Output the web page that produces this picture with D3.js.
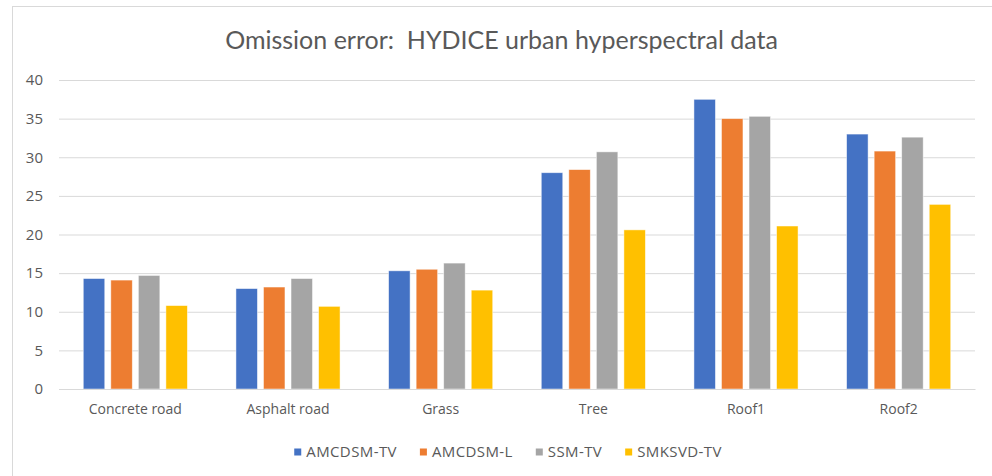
<!DOCTYPE html>
<html>
<head>
<meta charset="utf-8">
<script src="https://cdn.jsdelivr.net/npm/d3@7"></script>
<style>
  body { margin: 0; background: #fff; }
  svg { display: block; }
  .chart__title { font-family: Lato, "Open Sans", sans-serif; fill: #595959; white-space: pre; }
  .chart__tick { font-family: "Open Sans", sans-serif; font-size: 14px; fill: #595959; }
  .chart__ytick { font-family: "Open Sans", sans-serif; font-size: 15px; fill: #595959; }
  .chart__legend text { font-family: "Open Sans", sans-serif; font-size: 15px; letter-spacing: 0.4px; fill: #595959; }
</style>
</head>
<body>
<div id="chart"></div>
<script>
const TITLE = 'Omission error:  HYDICE urban hyperspectral data';

const CATEGORIES = ['Concrete road', 'Asphalt road', 'Grass', 'Tree', 'Roof1', 'Roof2'];
const SERIES = ['AMCDSM-TV', 'AMCDSM-L', 'SSM-TV', 'SMKSVD-TV'];

const AMCDSM_TV = [14.3, 13.0, 15.3, 28.0, 37.5, 33.0];
const AMCDSM_L = [14.1, 13.2, 15.5, 28.4, 35.0, 30.8];
const SSM_TV = [14.7, 14.3, 16.3, 30.7, 35.3, 32.6];
const SMKSVD_TV = [10.8, 10.7, 12.8, 20.6, 21.1, 23.9];

const Y_TICKS = [0, 5, 10, 15, 20, 25, 30, 35, 40];

const COLORS = ['#4472c4', '#ed7d31', '#a5a5a5', '#ffc000'];

const width = 992;
const height = 476;

const margins = { left: 59, right: 17, top: 80, bottom: 87 };

const values = [AMCDSM_TV, AMCDSM_L, SSM_TV, SMKSVD_TV];

const svg = d3.select('#chart')
  .append('svg')
    .attr('width', width)
    .attr('height', height);

// chart frame (runs off the right and bottom edges)
svg.append('rect')
    .attr('x', 12.5)
    .attr('y', 6.5)
    .attr('width', width)
    .attr('height', height)
    .attr('fill', '#fff')
    .attr('stroke', '#d9d9d9');

svg.append('text')
    .attr('class', 'chart__title')
    .attr('x', 501.5)
    .attr('y', 48.5)
    .attr('font-size', 25)
    .attr('text-anchor', 'middle')
    .text(TITLE);

const yScale = d3.scaleLinear()
  .domain([0, 40])
  .range([height - margins.bottom, margins.top]);

const x0 = d3.scaleBand()
  .domain(CATEGORIES)
  .range([margins.left, width - margins.right])
  .paddingInner(0.318)
  .paddingOuter(0.159);

const x1 = d3.scaleBand()
  .domain(SERIES)
  .range([0, x0.bandwidth()])
  .paddingInner(0.22);

// gridlines + y labels
const yAxis = d3.axisLeft(yScale)
  .tickValues(Y_TICKS)
  .tickSize(-(width - margins.left - margins.right))
  .tickPadding(16);

const yg = svg.append('g')
    .attr('transform', 'translate(' + margins.left + ',0)')
    .call(yAxis);

yg.select('.domain').remove();
yg.selectAll('.tick line')
    .attr('stroke', '#d9d9d9')
    .attr('stroke-width', 1);
yg.selectAll('.tick text')
    .attr('class', 'chart__ytick')
    .attr('font-size', null)
    .attr('font-family', null)
    .attr('fill', null);

// bars
const group = svg.append('g')
  .selectAll('g')
    .data(CATEGORIES)
  .enter()
  .append('g')
    .attr('transform', (d) => 'translate(' + x0(d) + ',0)');

group.selectAll('rect')
    .data((d, i) => SERIES.map((s, j) => ({ s, j, v: values[j][i] })))
  .enter()
  .append('rect')
    .attr('x', (d) => x1(d.s))
    .attr('y', (d) => yScale(d.v))
    .attr('width', x1.bandwidth())
    .attr('height', (d) => yScale(0) - yScale(d.v))
    .attr('fill', (d) => COLORS[d.j])
    .attr('stroke', '#fff')
    .attr('stroke-opacity', 0.6)
    .attr('stroke-width', 0.8);

// x axis line + labels
const xAxis = d3.axisBottom(x0).tickSize(0).tickPadding(15);
const xg = svg.append('g')
    .attr('transform', 'translate(0,' + yScale(0) + ')')
    .call(xAxis);

xg.select('.domain')
    .attr('stroke', '#d9d9d9');
xg.selectAll('.tick text')
    .attr('class', 'chart__tick')
    .attr('font-size', null)
    .attr('font-family', null)
    .attr('fill', null);

// legend
const legend = svg.append('g')
    .attr('class', 'chart__legend');

const item = legend.selectAll('g')
    .data(SERIES)
  .enter()
  .append('g');

item.append('rect')
    .attr('width', 7)
    .attr('height', 7)
    .attr('y', -8)
    .attr('fill', (d, i) => COLORS[i]);

item.append('text')
    .attr('x', 12)
    .text((d) => d);

let offset = 0;
const widths = [];
item.each(function() {
  const w = this.getBBox().width;
  widths.push(w);
});
const gap = 23;
const total = d3.sum(widths) + gap * (widths.length - 1);
item.attr('transform', (d, i) => {
  const x = offset;
  offset += widths[i] + gap;
  return 'translate(' + x + ',0)';
});
legend.attr('transform', 'translate(' + (508 - total / 2) + ',456.5)');
</script>
</body>
</html>
